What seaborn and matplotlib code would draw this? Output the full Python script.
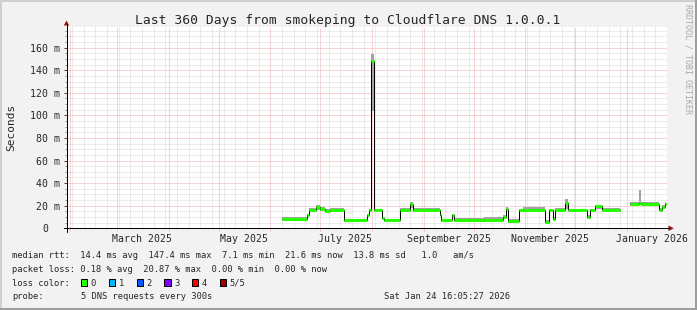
import numpy as np
import pandas as pd
import matplotlib
matplotlib.use("Agg")
import matplotlib.pyplot as plt
import matplotlib.dates as mdates
from matplotlib.lines import Line2D
from matplotlib.patches import Rectangle, Polygon
from matplotlib.ticker import MultipleLocator, FixedLocator, FuncFormatter
import seaborn as sns

# ---------------- data ----------------
title = "Last 360 Days from smokeping to Cloudflare DNS 1.0.0.1"
range_start = "2025-01-29 16:05"
range_end = "2026-01-24 16:05"

# each value holds from its time until the next time (NaN = no data)
times = [
    "2025-06-07 21:00", "2025-06-22 22:00", "2025-06-24 00:00", "2025-06-28 12:00",
    "2025-07-01 00:00", "2025-07-04 00:00", "2025-07-07 00:00", "2025-07-15 00:00",
    "2025-07-28 19:00", "2025-07-30 07:00", "2025-07-31 12:00", "2025-08-02 07:00",
    "2025-08-07 00:00", "2025-08-08 07:00", "2025-08-17 12:00", "2025-08-24 00:00",
    "2025-08-25 17:00", "2025-09-10 12:00", "2025-09-11 12:00", "2025-09-17 22:00",
    "2025-09-19 07:00", "2025-10-07 07:00", "2025-10-18 17:00", "2025-10-20 12:00",
    "2025-10-21 17:00", "2025-10-27 22:00", "2025-10-30 17:00", "2025-11-12 22:00",
    "2025-11-15 07:00", "2025-11-17 14:00", "2025-11-18 22:00", "2025-11-24 22:00",
    "2025-11-26 17:00", "2025-12-08 02:00", "2025-12-09 22:00", "2025-12-12 22:00",
    "2025-12-17 00:00", "2025-12-27 22:00", "2026-01-03 00:00", "2026-01-08 10:00",
    "2026-01-09 14:00", "2026-01-20 10:00", "2026-01-22 05:00", "2026-01-23 12:00",
    "2026-01-24 16:00",
]
median_ms = [
    8.3, 12.0, 16.5, 18.5, 17.5, 15.5, 16.6, 7.1,
    11.5, 16.0, 148.0, 16.0, 9.0, 7.0, 16.3, 21.5,
    16.6, 11.6, 7.5, 12.0, 7.0, 7.5, 10.0, 17.0,
    6.5, 16.0, 16.6, 5.6, 16.0, 8.6, 16.6, 22.0,
    16.0, 10.0, 16.0, 19.5, 16.0, np.nan, 21.9, 22.0,
    21.9, 16.5, 19.0, 21.5, np.nan,
]
smoke_lo = [
    7.3, 11.0, 15.3, 16.0, 15.5, 14.5, 15.5, 5.6,
    10.0, 15.0, 104.0, 15.0, 8.0, 5.6, 15.0, 18.0,
    15.5, 10.5, 6.0, 10.0, 5.6, 5.8, 9.0, 15.5,
    5.0, 14.5, 15.5, 4.5, 14.5, 7.5, 15.5, 17.0,
    15.0, 9.0, 15.0, 17.5, 15.0, np.nan, 20.5, 20.5,
    20.5, 15.5, 18.0, 20.5, np.nan,
]
smoke_hi = [
    9.6, 13.0, 18.0, 20.5, 19.0, 17.0, 18.2, 8.6,
    12.5, 17.0, 154.0, 17.5, 10.0, 8.6, 18.0, 23.5,
    18.0, 12.5, 8.5, 13.0, 9.5, 10.0, 11.5, 18.5,
    8.0, 17.5, 19.0, 7.0, 17.0, 10.0, 18.0, 26.0,
    17.5, 11.5, 17.5, 21.0, 18.0, np.nan, 23.5, 34.0,
    23.5, 18.0, 20.5, 23.0, np.nan,
]
loss_level = [0] * len(times)

y_ticks = [0, 20, 40, 60, 80, 100, 120, 140, 160]
y_max = 178

legend_rtt = "median rtt:  14.4 ms avg  147.4 ms max  7.1 ms min  21.6 ms now  13.8 ms sd   1.0   am/s"
legend_loss = "packet loss: 0.18 % avg  20.87 % max  0.00 % min  0.00 % now"
legend_color_title = "loss color:"
loss_labels = ["0", "1", "2", "3", "4", "5/5"]
loss_colors = ["#26ff00", "#00b8ff", "#0059ff", "#7e00ff", "#ff0000", "#a10000"]
probe_title = "probe:"
probe_text = "5 DNS requests every 300s"
stamp_text = "Sat Jan 24 16:05:27 2026"
y_label = "Seconds"
watermark = "RRDTOOL / TOBI OETIKER"

# ---------------- style ----------------
W, H = 697, 310
BG = "#f2f2f2"
GRID_MINOR = "#d9d9d9"
GRID_MAJOR = "#f2a8a8"
ARROW = "#8e1616"
MONO = "DejaVu Sans Mono"

sns.set_style("white")
plt.rcParams["font.family"] = [MONO]

fig = plt.figure(figsize=(W / 100, H / 100), dpi=100, facecolor=BG)
L, R, T, B = 66.5, 666.5, 27.3, 228.3
ax = fig.add_axes([L / W, 1 - B / H, (R - L) / W, (B - T) / H])
ax.set_facecolor("white")

df = pd.DataFrame({
    "time": pd.to_datetime(times),
    "median": median_ms,
    "lo": smoke_lo,
    "hi": smoke_hi,
    "loss": loss_level,
})

# expand to explicit steps
rows = []
seg = 0
for i in range(len(df) - 1):
    v = df["median"].iloc[i]
    if np.isnan(v):
        seg += 1
        continue
    for t in (df["time"].iloc[i], df["time"].iloc[i + 1]):
        rows.append({"time": t, "median": v, "lo": df["lo"].iloc[i],
                     "hi": df["hi"].iloc[i], "seg": seg})
steps = pd.DataFrame(rows)

t0 = pd.Timestamp(range_start)
t1 = pd.Timestamp(range_end)

# grid
px = 0.72
for y in np.arange(5, y_max, 5):
    ax.axhline(y, color=GRID_MAJOR if y % 20 == 0 else GRID_MINOR,
               lw=px, ls=(0, (1, 1)), zorder=0.5)
months = pd.date_range(t0.normalize(), t1, freq="MS")
weeks = pd.date_range(t0.normalize(), t1, freq="W-SUN")
for w in weeks:
    if w.day != 1:
        ax.axvline(mdates.date2num(w), color=GRID_MINOR, lw=px, ls=(0, (1, 1)), zorder=0.5)
for m in months:
    ax.axvline(mdates.date2num(m), ymin=-0.015, color=GRID_MAJOR, lw=px,
               ls=(0, (1, 1)), zorder=0.5, clip_on=False)

# smoke
for s, g in steps.groupby("seg"):
    ax.fill_between(mdates.date2num(g["time"].values), g["lo"], g["hi"],
                    color="#a3a3a3", lw=0, zorder=1)

# median step line
sns.lineplot(data=steps, x="time", y="median", units="seg", estimator=None,
             sort=False, color="black", lw=px, ax=ax, zorder=2)

# loss-coloured median segments
tn = mdates.date2num(df["time"].values)
valid = ~df["median"].isna().values[:-1]
ax.hlines(df["median"].values[:-1][valid], tn[:-1][valid], tn[1:][valid],
          colors=[loss_colors[k] for k in df["loss"].values[:-1][valid]],
          lw=2.2, zorder=3)

ax.set_xlim(t0, t1)
ax.set_ylim(0, y_max)
for sp in ax.spines.values():
    sp.set_visible(False)
ax.set_xlabel("")
ax.set_ylabel("")

# x labels at mid-month of odd months
ax.xaxis.set_major_locator(mdates.MonthLocator(bymonth=[1, 3, 5, 7, 9, 11], bymonthday=16))
ax.xaxis.set_major_formatter(mdates.DateFormatter("%B %Y"))
ax.tick_params(axis="x", length=0, pad=4.2, labelsize=7.1)

ax.yaxis.set_major_locator(FixedLocator(y_ticks))
ax.yaxis.set_minor_locator(MultipleLocator(5))
ax.yaxis.set_major_formatter(FuncFormatter(lambda v, p: "" if v == 0 else f"{int(v)} m"))
ax.tick_params(axis="y", which="major", length=2.2, width=px, color="#444444",
               pad=2.8, labelsize=7.1, left=True)
ax.tick_params(axis="y", which="minor", length=1.2, width=px, color="#999999", left=True)
ax.annotate("0", xy=(0, 0), xycoords=("axes fraction", "data"), xytext=(-21.5, 0),
            textcoords="offset pixels", ha="center", va="center_baseline",
            fontsize=7.1, family=MONO)

# axis lines and arrows (figure pixel helpers)
def fx(x):
    return x / W

def fy(y):
    return 1 - y / H

fig.add_artist(Line2D([fx(L), fx(L)], [fy(231.5), fy(24)], color="black", lw=px))
fig.add_artist(Line2D([fx(63.5), fx(669)], [fy(B), fy(B)], color="black", lw=px))
fig.add_artist(Polygon([(fx(63.8), fy(25.5)), (fx(69.2), fy(25.5)), (fx(L), fy(20.5))],
                       closed=True, transform=fig.transFigure, color=ARROW, lw=0))
fig.add_artist(Polygon([(fx(668.5), fy(225.5)), (fx(668.5), fy(231.1)), (fx(673.8), fy(B))],
                       closed=True, transform=fig.transFigure, color=ARROW, lw=0))

# frame
fig.add_artist(Line2D([0, 1], [fy(0.5), fy(0.5)], color="#d0d0d0", lw=1.4))
fig.add_artist(Line2D([fx(0.5), fx(0.5)], [0, 1], color="#d0d0d0", lw=1.4))
fig.add_artist(Line2D([0, 1], [fy(309.2), fy(309.2)], color="#9c9c9c", lw=1.4))
fig.add_artist(Line2D([fx(696.2), fx(696.2)], [0, 1], color="#9c9c9c", lw=1.4))

# texts
fig.text(fx(347.5), fy(24.3), title, ha="center", va="baseline", fontsize=9.36, family=MONO)
fig.text(fx(10.8), fy(127.5), y_label, rotation=90, ha="center", va="center",
         fontsize=8, family=MONO)
fig.text(fx(688), fy(4.5), watermark, rotation=270, ha="center", va="top",
         fontsize=6, family=MONO, color="#a8a8a8")

LF = 6.34
fig.text(fx(12.3), fy(258.5), legend_rtt, ha="left", va="baseline", fontsize=LF, family=MONO)
fig.text(fx(12.3), fy(271.8), legend_loss, ha="left", va="baseline", fontsize=LF, family=MONO)
fig.text(fx(12.3), fy(285.5), legend_color_title, ha="left", va="baseline", fontsize=LF, family=MONO)
for i, (lab, col) in enumerate(zip(loss_labels, loss_colors)):
    bx = 81 + i * 27.8
    fig.add_artist(Rectangle((fx(bx), fy(285.7)), 6.3 / W, 6.7 / H, transform=fig.transFigure,
                             facecolor=col, edgecolor="black", lw=px))
    fig.text(fx(bx + 9.8), fy(285.5), lab, ha="left", va="baseline", fontsize=LF, family=MONO)
fig.text(fx(12.3), fy(299.2), probe_title, ha="left", va="baseline", fontsize=LF, family=MONO)
fig.text(fx(81), fy(299.2), probe_text, ha="left", va="baseline", fontsize=LF, family=MONO)
fig.text(fx(510.5), fy(299.2), stamp_text, ha="right", va="baseline", fontsize=LF, family=MONO)

fig.savefig("out.png", dpi=100, facecolor=BG)
